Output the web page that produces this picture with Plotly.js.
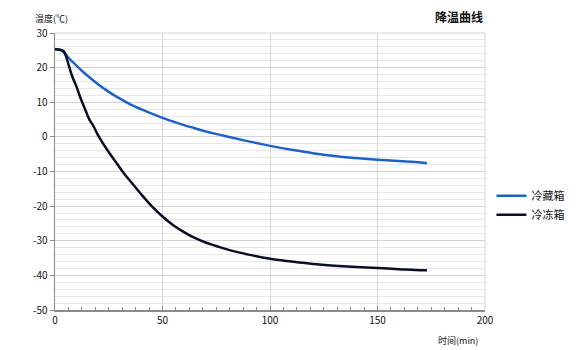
<!DOCTYPE html>
<html><head><meta charset="utf-8">
<script src="https://cdn.plot.ly/plotly-3.0.1.min.js"></script>
<style>body{margin:0;background:#fff}#c{width:580px;height:350px}</style>
</head><body><div id="c"></div>
<script>
const seriesNames = ["冷藏箱", "冷冻箱"];
const fridgeTime = [0,3,5,7,10,13,16,20,25,30,35,40,45,50,55,60,65,70,80,90,100,110,120,130,140,150,160,170,173];
const fridgeTemp = [25.3,25,23.8,22.4,20.6,18.8,17.2,15.2,13,11.1,9.4,8,6.7,5.5,4.4,3.4,2.5,1.6,0.1,-1.3,-2.6,-3.7,-4.7,-5.5,-6.1,-6.6,-7,-7.4,-7.6];
const freezerTime = [0,2,4,5,6,8,10,12,14,16,18,20,24,28,32,36,40,45,50,55,60,65,70,75,80,90,100,110,120,130,140,150,160,170,173];
const freezerTemp = [25.3,25.2,24.8,23.5,21.5,17.5,14.5,11,8,5,3,0.5,-3.5,-7,-10.5,-13.5,-16.5,-20,-23,-25.5,-27.5,-29.2,-30.5,-31.5,-32.5,-34,-35.2,-36,-36.7,-37.2,-37.6,-37.9,-38.2,-38.5,-38.5];
const xTickVals = [0,50,100,150,200];
const xTickText = ["0","50","100","150","200"];
const yTickVals = [30,20,10,0,-10,-20,-30,-40,-50];
const yTickText = ["30","20","10","0","-10","-20","-30","-40","-50"];
const chartTitle = "降温曲线";
const xTitle = "时间(min)";
const yTitle = "温度(℃)";

const F = "Noto Sans CJK SC, sans-serif";
const traces = [
  {x: fridgeTime, y: fridgeTemp, name: seriesNames[0], mode: "lines", line: {color: "#1f62c6", width: 2.5, shape: "spline", smoothing: 1}},
  {x: freezerTime, y: freezerTemp, name: seriesNames[1], mode: "lines", line: {color: "#0b0f26", width: 2.5, shape: "spline"}}
];
const layout = {
  width: 580, height: 350,
  margin: {l: 55, r: 95, t: 33, b: 40, autoexpand: false},
  paper_bgcolor: "#fff", plot_bgcolor: "#fff",
  font: {family: F, size: 10, color: "#111"},
  showlegend: true,
  legend: {x: 1.015, y: 0.465, xanchor: "left", yanchor: "top", font: {size: 11, color: "#111"}, tracegroupgap: 0, bgcolor: "rgba(0,0,0,0)"},
  xaxis: {range: [0, 200], tickmode: "array", tickvals: xTickVals, ticktext: xTickText,
    showgrid: true, gridcolor: "#d6d6d6", gridwidth: 1,
    zeroline: false, showline: true, linecolor: "#8a8a8a", linewidth: 1.5,
    ticks: "inside", ticklen: 4, tickcolor: "#8a8a8a",
    minor: {tickmode: "linear", tick0: 0, dtick: 6.25, ticks: "inside", ticklen: 3, tickcolor: "#8a8a8a", showgrid: false},
    tickfont: {size: 10, color: "#111"}, fixedrange: true},
  yaxis: {range: [-50, 30], tickmode: "array", tickvals: yTickVals, ticktext: yTickText,
    showgrid: true, gridcolor: "#d2d2d2", gridwidth: 1,
    zeroline: false, showline: true, linecolor: "#8a8a8a", linewidth: 1.5,
    ticks: "outside", ticklen: 4, tickcolor: "#8a8a8a",
    minor: {tickmode: "linear", tick0: 0, dtick: 2, showgrid: true, gridcolor: "#e6e6e6", gridwidth: 1, ticks: ""},
    tickfont: {size: 10, color: "#111"}, fixedrange: true},
  shapes: [
    {type: "line", xref: "paper", yref: "paper", x0: 0, x1: 1, y0: 1, y1: 1, line: {color: "#d2d2d2", width: 1}},
    {type: "line", xref: "paper", yref: "paper", x0: 1, x1: 1, y0: 0, y1: 1, line: {color: "#d2d2d2", width: 1}}
  ],
  annotations: [
    {text: chartTitle, xref: "paper", yref: "paper", x: 1, y: 1, xanchor: "right", yanchor: "bottom", yshift: 6, showarrow: false, font: {size: 12, color: "#111", family: F, weight: "bold"}},
    {text: yTitle, xref: "paper", yref: "paper", x: 0, y: 1, xanchor: "left", yanchor: "bottom", xshift: -22, yshift: 6, showarrow: false, font: {size: 9, color: "#111", family: F}},
    {text: xTitle, xref: "paper", yref: "paper", x: 1, y: 0, xanchor: "right", yanchor: "top", xshift: -5, yshift: -22, showarrow: false, font: {size: 9, color: "#111", family: F}}
  ]
};
Plotly.newPlot("c", traces, layout, {displayModeBar: false, staticPlot: true});
</script></body></html>
